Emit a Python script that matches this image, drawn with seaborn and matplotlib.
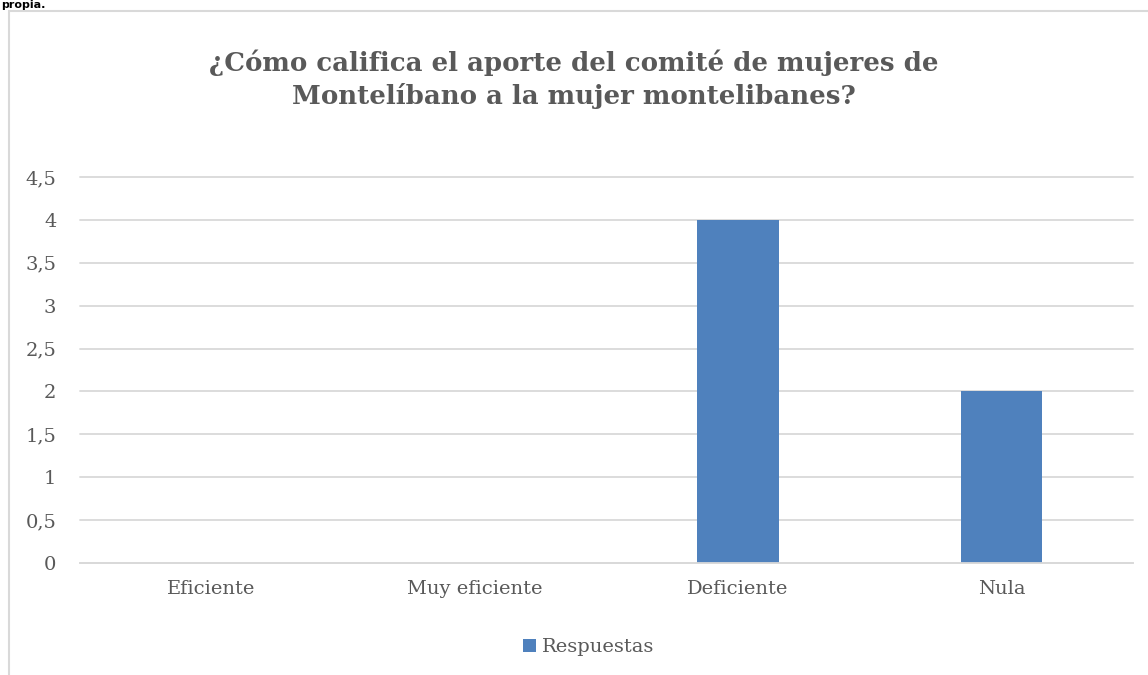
import pandas as pd
import numpy as np
import matplotlib.pyplot as plt
import seaborn as sns
from matplotlib.patches import Rectangle

categorias = ["Eficiente", "Muy eficiente", "Deficiente", "Nula"]
respuestas = [0, 0, 4, 2]
yticks = [0, 0.5, 1, 1.5, 2, 2.5, 3, 3.5, 4, 4.5]
ytick_labels = ["0", "0,5", "1", "1,5", "2", "2,5", "3", "3,5", "4", "4,5"]

titulo = "¿Cómo califica el aporte del comité de mujeres de\nMontelíbano a la mujer montelibanes?"

sns.set_style("white")
plt.rcParams['font.family'] = ['DejaVu Serif']

gris = "#595959"
linea = "#d9d9d9"
azul = "#4f81bd"

df = pd.DataFrame({'categoria': categorias, 'respuestas': respuestas})

fig = plt.figure(figsize=(11.48, 6.75), dpi=100)
ax = fig.add_axes([80 / 1148, 1 - 563 / 675, 1053 / 1148, 386 / 675])

sns.barplot(data=df, x='categoria', y='respuestas', color=azul, width=0.31,
            saturation=1, linewidth=0, ax=ax, label="Respuestas")

ax.set_ylim(0, 4.5)
ax.set_yticks(yticks)
ax.set_yticklabels(ytick_labels)
ax.set_xlim(-0.5, 3.5)
ax.yaxis.grid(True, color=linea, linewidth=1.3)
for gl in ax.get_ygridlines():
    gl.set_clip_on(False)
ax.set_axisbelow(True)
for s in ['top', 'right', 'left']:
    ax.spines[s].set_visible(False)
ax.spines['bottom'].set_color(linea)
ax.spines['bottom'].set_linewidth(1.3)
ax.tick_params(axis='both', length=0, colors=gris, labelsize=14)
ax.tick_params(axis='y', pad=17)
ax.tick_params(axis='x', pad=12)
ax.set_xlabel("")
ax.set_ylabel("")

fig.text(0.5, 1 - 79 / 675, titulo, ha='center', va='center', fontsize=18.7,
         fontweight='bold', color=gris, linespacing=1.35)

leg = ax.legend(loc='center', bbox_to_anchor=(0.483, (563 - 647) / 386), frameon=False,
                fontsize=14, handlelength=0.65, handleheight=0.65, handletextpad=0.3,
                labelcolor=gris)

# borde del gráfico
fig.patches.append(Rectangle((9 / 1148, -0.05), 1.2, 1 - 11 / 675 + 0.05,
                             transform=fig.transFigure, fill=False,
                             edgecolor=linea, linewidth=1.5))

fig.text(0.001, 1 - 8 / 675, "propia.", ha='left', va='baseline', fontsize=8,
         fontweight='bold', family='DejaVu Sans', color='black')

fig.savefig("out.png", dpi=100)
